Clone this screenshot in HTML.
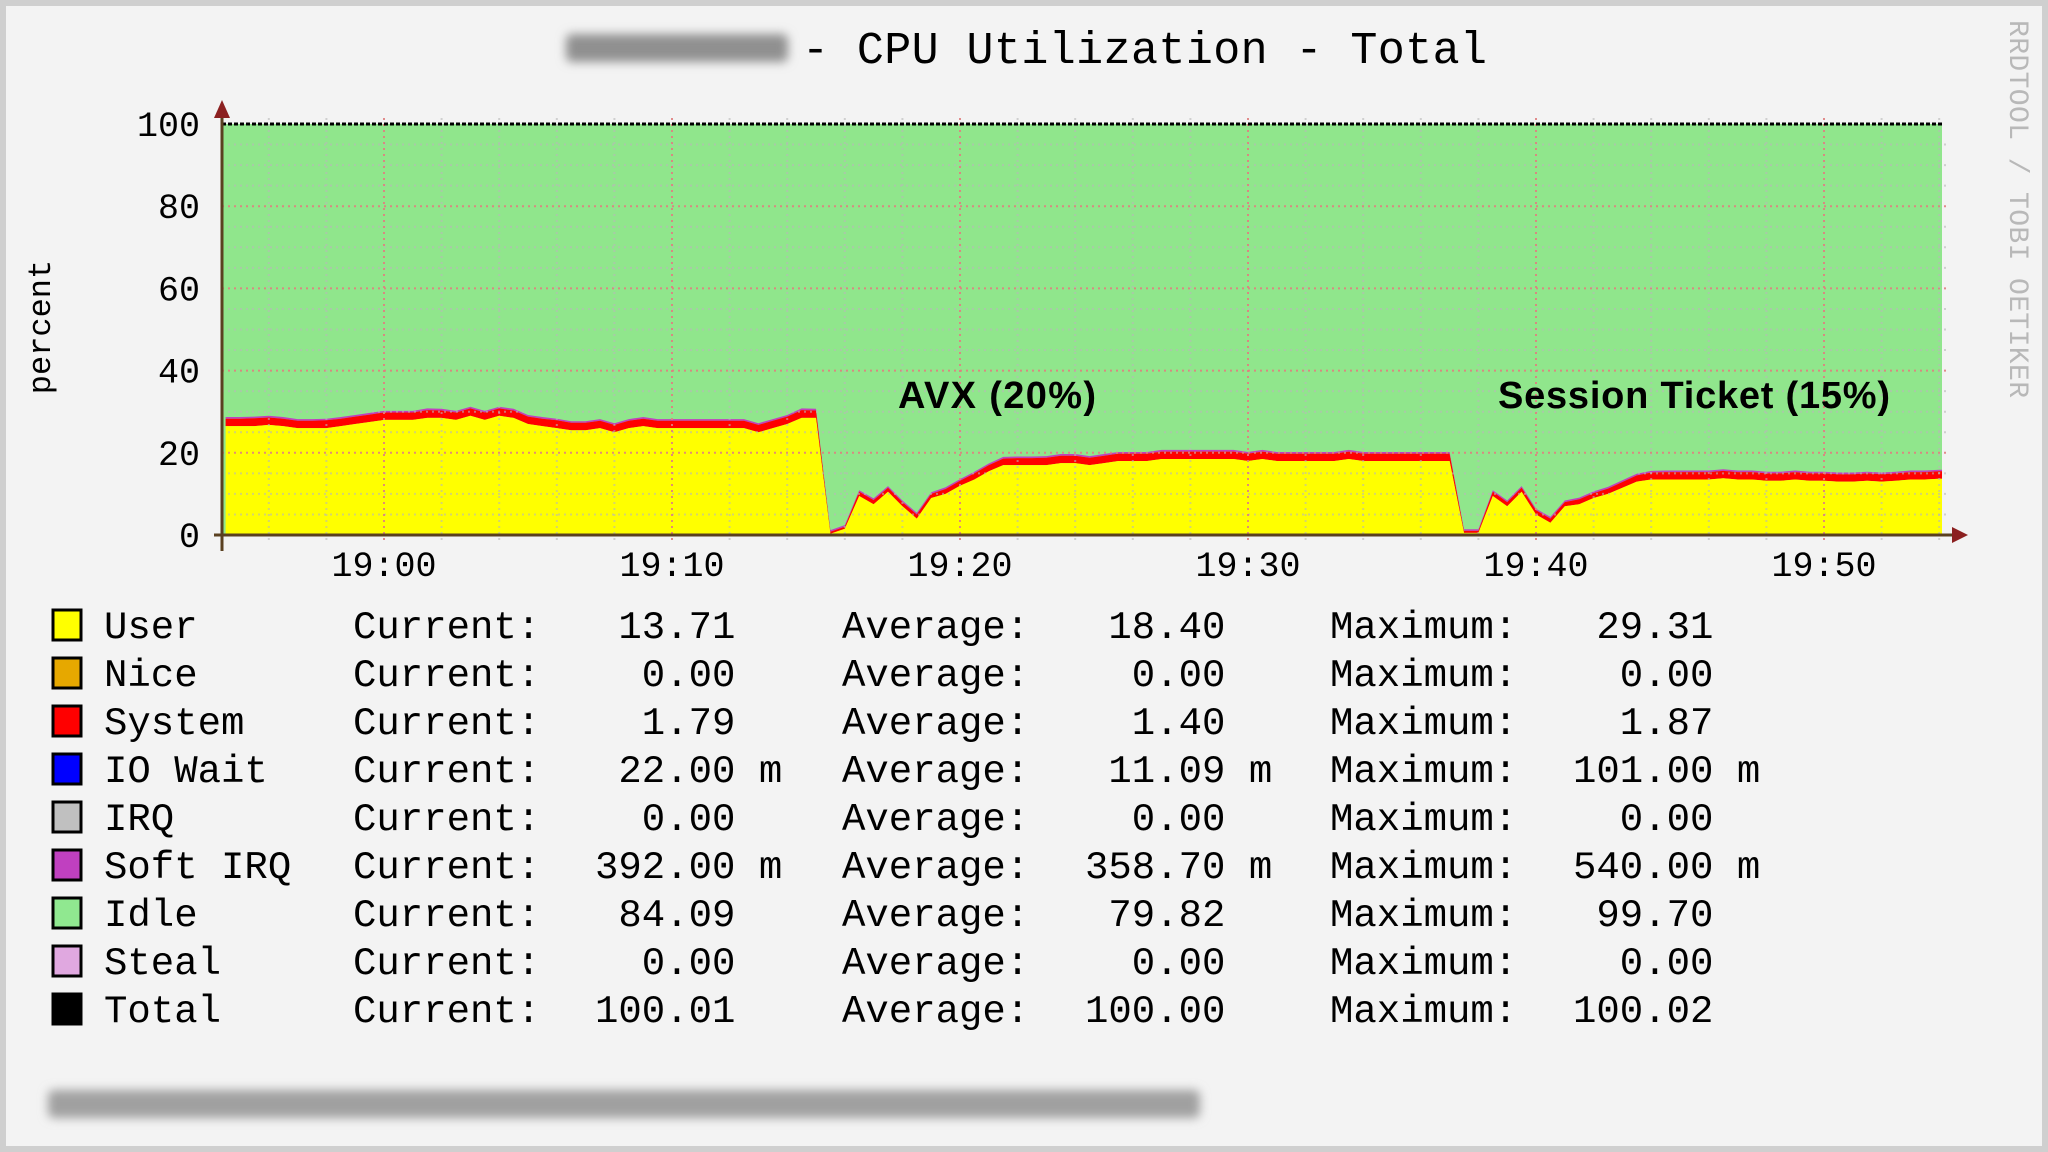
<!DOCTYPE html>
<html><head><meta charset="utf-8"><title>CPU Utilization</title>
<style>
html,body{margin:0;padding:0;background:#cfcfcf;}
svg{display:block;}
.mono{font-family:"Liberation Mono","DejaVu Sans Mono",monospace;white-space:pre;}
</style></head>
<body>
<svg id="chart" width="2048" height="1152" viewBox="0 0 2048 1152" xmlns="http://www.w3.org/2000/svg">
<defs>
<filter id="blur" x="-10%" y="-50%" width="120%" height="200%"><feGaussianBlur stdDeviation="5"/></filter>
</defs>
<rect x="0" y="0" width="2048" height="1152" fill="#cfcfcf"/>
<rect x="6" y="6" width="2036" height="1140" fill="#f3f3f3"/>
<g id="plot"></g>
<g id="legend"></g>
</svg>
<script>
// ---- data ----
var minutesFrom1900 = [];
var userValues = [
26.5,26.5,26.5,26.8,26.5,26,26,26,26.5,27,27.5,
28,28,28,28.5,28.5,28,29,28,29,28.5,
27,26.5,26,25.5,25.5,26,25,26,26.5,26,
26,26,26,26,26,26,25,26,27,28.5,
28.5,0.3,1.5,9.5,7.5,10.5,7,4,9,10,
12,13.5,15.5,17,17,17,17,17.5,17.5,17,
17.5,18,18,18,18.5,18.5,18.5,18.5,18.5,18.5,
18,18.5,18,18,18,18,18,18.5,18,18,
18,18,18,18,18,0.5,0.5,9.5,7,10.5,
5,3,7,7.5,9,10,11.5,13,13.5,13.5,
13.5,13.5,13.5,13.8,13.5,13.5,13.2,13.2,13.5,13.2,
13.2,13,13,13.2,13,13.2,13.5,13.5,13.7,13.7
];
var systemValues = [
1.8,1.8,1.9,1.8,1.8,1.8,1.8,1.9,1.8,1.8,1.8,
1.8,1.8,1.8,1.9,1.8,1.8,1.8,1.8,1.8,1.8,
1.8,1.8,1.9,1.8,1.8,1.8,1.8,1.8,1.8,1.8,
1.8,1.8,1.8,1.8,1.8,1.8,1.8,1.8,1.8,1.9,
1.8,0.5,0.5,1,1,1,1,1,1,1.2,
1.2,1.5,1.5,1.6,1.7,1.7,1.8,1.8,1.8,1.8,
1.8,1.8,1.8,1.8,1.8,1.8,1.8,1.8,1.8,1.8,
1.8,1.8,1.8,1.8,1.8,1.8,1.8,1.8,1.8,1.8,
1.8,1.8,1.8,1.8,1.8,0.5,0.5,1,1,1,
1,1,1,1.2,1.2,1.3,1.4,1.5,1.7,1.8,
1.8,1.8,1.8,1.8,1.8,1.8,1.8,1.8,1.8,1.8,
1.8,1.8,1.8,1.8,1.8,1.8,1.8,1.8,1.8,1.8
];
var softIrqValues = [];
var yTickValues = [0,20,40,60,80,100];
var xTickLabels = ["19:00","19:10","19:20","19:30","19:40","19:50"];
var xTickMinutes = [0,10,20,30,40,50];
var legendNames = ["User","Nice","System","IO Wait","IRQ","Soft IRQ","Idle","Steal","Total"];
var legendColors = ["#ffff00","#e6a800","#ff0000","#0000ff","#c0c0c0","#c040c0","#90e890","#e0a8e0","#000000"];
var currentVals = [" 13.71","  0.00","  1.79"," 22.00 m","  0.00","392.00 m"," 84.09","  0.00","100.01"];
var averageVals = [" 18.40","  0.00","  1.40"," 11.09 m","  0.00","358.70 m"," 79.82","  0.00","100.00"];
var maximumVals = [" 29.31","  0.00","  1.87","101.00 m","  0.00","540.00 m"," 99.70","  0.00","100.02"];
for (var k=0;k<userValues.length;k++){ minutesFrom1900.push(k*0.5-5.5); softIrqValues.push(0.4); }

// ---- axes ----
var NS="http://www.w3.org/2000/svg";
var X0=222, X1=1942, Y0=535, Y100=124;
function xs(m){ return 384 + m*28.8; }
function ys(v){ return Y0 - v*(Y0-Y100)/100; }
function mk(tag, attrs, parent){ var e=document.createElementNS(NS,tag); for(var a in attrs) e.setAttribute(a,attrs[a]); parent.appendChild(e); return e; }
var plot=document.getElementById('plot');
var svg=document.getElementById('chart');

var bg=mk('rect',{x:X0,y:Y100,width:X1-X0,height:Y0-Y100,fill:'#90e68c'},plot);



function clampX(m){ return Math.max(X0, Math.min(X1, xs(m))); }
function areaPath(lower, upper){
  var d='';
  for(var i=0;i<upper.length;i++){ d+=(i? 'L':'M')+clampX(minutesFrom1900[i]).toFixed(1)+','+ys(upper[i]).toFixed(1); }
  d+='L'+X1+','+ys(upper[upper.length-1]).toFixed(1);
  d+='L'+X1+','+ys(lower[lower.length-1]).toFixed(1);
  for(var j=lower.length-1;j>=0;j--){ d+='L'+clampX(minutesFrom1900[j]).toFixed(1)+','+ys(lower[j]).toFixed(1); }
  return d+'Z';
}
var zero=[],u=[],us=[],uss=[];
for(var i=0;i<userValues.length;i++){ zero.push(0); u.push(userValues[i]); us.push(userValues[i]+systemValues[i]); uss.push(userValues[i]+systemValues[i]+softIrqValues[i]); }
var pS=mk('path',{d:areaPath(us,uss),fill:'#c040c0'},plot);


var pR=mk('path',{d:areaPath(u,us),fill:'#ff0000'},plot);


var pU=mk('path',{d:areaPath(zero,u),fill:'#ffff00'},plot);



for(var v=5; v<100; v+=5){
  var major=(v%20===0);
  var g=mk('line',{x1:X0,x2:X1+6,y1:ys(v),y2:ys(v),stroke:major?'#e08080':'#b8b8b8','stroke-width':2,'stroke-dasharray':'2,4',opacity:major?0.9:0.6},plot);
  
  
}
for(var m=-4; m<=54; m+=2){
  var maj=(m%10===0);
  var gv=mk('line',{x1:xs(m),x2:xs(m),y1:Y100-6,y2:Y0+6,stroke:maj?'#e08080':'#b8b8b8','stroke-width':2,'stroke-dasharray':'2,4',opacity:maj?0.9:0.6},plot);
  
  
}
var tl=mk('line',{x1:X0,x2:X1,y1:Y100,y2:Y100,stroke:'#000','stroke-width':3,'stroke-dasharray':'4,2'},plot);



var ax=mk('line',{x1:X0-8,x2:1955,y1:Y0,y2:Y0,stroke:'#5a4020','stroke-width':3},plot);


var ay=mk('line',{x1:X0,x2:X0,y1:Y0+16,y2:110,stroke:'#5a4020','stroke-width':3},plot);


var ar1=mk('polygon',{points:(1952)+','+(Y0-8)+' 1968,'+Y0+' 1952,'+(Y0+8),fill:'#8b2020'},plot);


var ar2=mk('polygon',{points:'214,118 222,100 230,118',fill:'#8b2020'},plot);



for(var t=0;t<yTickValues.length;t++){
  var yl=mk('text',{x:200,y:ys(yTickValues[t])+12,'text-anchor':'end','font-size':35,fill:'#000','class':'mono'},plot);
  
  
  yl.textContent=String(yTickValues[t]);
}
for(var t2=0;t2<xTickLabels.length;t2++){
  var xl=mk('text',{x:xs(xTickMinutes[t2]),y:576,'text-anchor':'middle','font-size':35,fill:'#000','class':'mono'},plot);
  
  
  xl.textContent=xTickLabels[t2];
}

var yt=mk('text',{x:0,y:0,transform:'translate(50,327) rotate(-90)','text-anchor':'middle','font-size':32,fill:'#000','class':'mono'},svg);


yt.textContent='percent';
var hb=mk('rect',{x:566,y:34,width:222,height:28,rx:6,fill:'#909090',filter:'url(#blur)'},svg);


var tt=mk('text',{x:802,y:63,'font-size':45,fill:'#000','class':'mono',textLength:685},svg);


tt.textContent='- CPU Utilization - Total';
var rr=mk('text',{x:0,y:0,transform:'translate(2010,20) rotate(90)','font-size':28,fill:'#b8b8b8','class':'mono',textLength:378},svg);


rr.textContent='RRDTOOL / TOBI OETIKER';
var a1=mk('text',{x:898,y:408,'font-size':38,'font-weight':'bold',fill:'#000','font-family':'Liberation Sans, sans-serif',textLength:198},svg);


a1.textContent='AVX (20%)';
var a2=mk('text',{x:1498,y:408,'font-size':38,'font-weight':'bold',fill:'#000','font-family':'Liberation Sans, sans-serif',textLength:392},svg);


a2.textContent='Session Ticket (15%)';
var fb=mk('rect',{x:48,y:1090,width:1152,height:28,rx:6,fill:'#a0a0a0',filter:'url(#blur)'},svg);



var leg=document.getElementById('legend');
for(var r=0;r<legendNames.length;r++){
  var cy=624+r*48;
  var sw=mk('rect',{x:53,y:cy-14,width:28,height:30,fill:legendColors[r],stroke:'#000','stroke-width':3},leg);
  
  
  var cols=[[104,legendNames[r]],[353,'Current:'],[595,currentVals[r]],[842,'Average:'],[1085,averageVals[r]],[1330,'Maximum:'],[1573,maximumVals[r]]];
  for(var c=0;c<cols.length;c++){
    var tx=mk('text',{x:cols[c][0],y:cy+14,'font-size':39,fill:'#000','class':'mono'},leg);
    
    
    tx.textContent=cols[c][1];
  }
}
</script>
</body></html>
